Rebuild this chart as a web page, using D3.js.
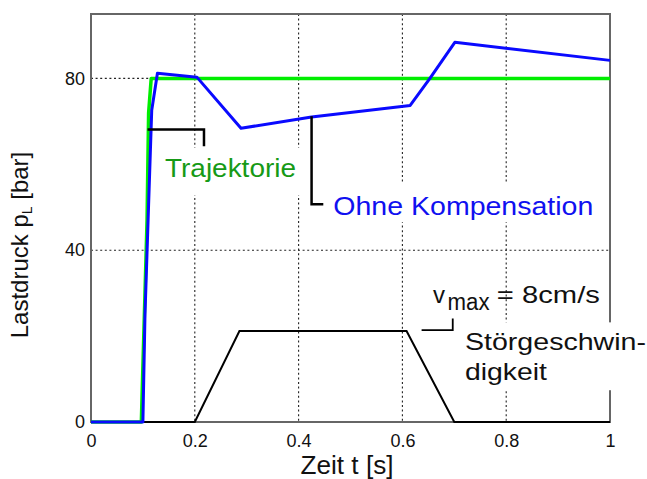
<!DOCTYPE html>
<html>
<head>
<meta charset="utf-8">
<script src="https://cdn.jsdelivr.net/npm/d3@7"></script>
<style>
  html, body { margin: 0; padding: 0; background: #fff; }
  svg { display: block; font-family: "Liberation Sans", Arial, Helvetica, sans-serif; }
</style>
</head>
<body>
<svg id="chart" width="647" height="479"></svg>
<script>
// Zeitachse [s] und Lastdruck [bar]
const trajT = [0, 0.097, 0.108, 0.111, 0.116, 1];
const trajP = [0, 0, 47, 72, 80, 80];

const ohneT = [0, 0.1, 0.104, 0.110, 0.117, 0.128, 0.204, 0.289, 0.425, 0.615, 0.653, 0.701, 1];
const ohneP = [0, 0, 25, 47, 72.6, 81.2, 80.3, 68.4, 71.0, 73.7, 80, 88.4, 84.2];

// Störgeschwindigkeit, in Achseneinheiten aufgetragen (Plateau = v_max)
const stoerT = [0, 0.2, 0.286, 0.608, 0.7, 1];
const stoerP = [0, 0, 21.2, 21.2, 0, 0];

const xTicks = [0, 0.2, 0.4, 0.6, 0.8, 1];
const xTickLabels = ["0", "0.2", "0.4", "0.6", "0.8", "1"];
const yTicks = [0, 40, 80];
const yTickLabels = ["0", "40", "80"];

const svg = d3.select("#chart");
const x = d3.scaleLinear().domain([0, 1]).range([91, 610]);
const y = d3.scaleLinear().domain([0, 95]).range([422, 14]);

const zip = (ts, ps) => ts.map((t, i) => [t, ps[i]]);
const line = d3.line().x(d => x(d[0])).y(d => y(d[1]));

// Gitter (gepunktet)
const grid = svg.append("g").attr("stroke", "#222").attr("stroke-width", 1.1)
  .attr("stroke-dasharray", "2,2.6");
xTicks.filter(t => t > 0 && t < 1).forEach(t => {
  grid.append("line").attr("x1", x(t)).attr("x2", x(t)).attr("y1", y.range()[1]).attr("y2", y.range()[0]);
});
yTicks.filter(v => v > 0).forEach(v => {
  grid.append("line").attr("x1", x(0)).attr("x2", x(1)).attr("y1", y(v)).attr("y2", y(v));
});

// Achsenrahmen
svg.append("rect")
  .attr("x", x(0)).attr("y", y.range()[1])
  .attr("width", x(1) - x(0)).attr("height", y.range()[0] - y.range()[1])
  .attr("fill", "none").attr("stroke", "#666").attr("stroke-width", 2);

// Achsenbeschriftung mit d3-Achsen
const xAxis = d3.axisBottom(x).tickValues(xTicks).tickFormat((d, i) => xTickLabels[i]).tickSize(0).tickPadding(12);
const gx = svg.append("g").attr("transform", `translate(0,${y(0)})`).call(xAxis);
gx.select(".domain").remove();
gx.selectAll("text").attr("font-size", 18).attr("fill", "#111").attr("font-family", "Liberation Sans, Arial, sans-serif");

const yAxis = d3.axisLeft(y).tickValues(yTicks).tickFormat((d, i) => yTickLabels[i]).tickSize(0).tickPadding(6);
const gy = svg.append("g").attr("transform", `translate(${x(0)},0)`).call(yAxis);
gy.select(".domain").remove();
gy.selectAll("text").attr("font-size", 18).attr("fill", "#111").attr("font-family", "Liberation Sans, Arial, sans-serif");

// Weiße Hinterlegungen der Beschriftungen
const bg = svg.append("g").attr("fill", "#fff");
bg.append("rect").attr("x", x(0.133)).attr("y", y(63.8)).attr("width", x(0.405) - x(0.133)).attr("height", y(52.8) - y(63.8));
bg.append("rect").attr("x", x(0.455)).attr("y", y(55.5)).attr("width", x(0.985) - x(0.455)).attr("height", y(46.5) - y(55.5));
bg.append("rect").attr("x", x(0.71)).attr("y", y(23.2)).attr("width", 647 - x(0.71)).attr("height", y(7.4) - y(23.2));

// Kurven
svg.append("path").datum(zip(stoerT, stoerP)).attr("d", line)
  .attr("fill", "none").attr("stroke", "#000").attr("stroke-width", 2);
svg.append("path").datum(zip(trajT, trajP)).attr("d", line)
  .attr("fill", "none").attr("stroke", "#00ee00").attr("stroke-width", 3.5).attr("stroke-linejoin", "round");
svg.append("path").datum(zip(ohneT, ohneP)).attr("d", line)
  .attr("fill", "none").attr("stroke", "#0a0aff").attr("stroke-width", 3).attr("stroke-linejoin", "round");

// Hinweislinien
const ptr = d3.line().x(d => x(d[0])).y(d => y(d[1]));
svg.append("path").datum([[0.109, 68.1], [0.2177, 68.1], [0.2177, 64.2]]).attr("d", ptr)
  .attr("fill", "none").attr("stroke", "#000").attr("stroke-width", 2.5);
svg.append("path").datum([[0.425, 71.2], [0.425, 50.7], [0.4476, 50.7]]).attr("d", ptr)
  .attr("fill", "none").attr("stroke", "#000").attr("stroke-width", 2.5);
svg.append("path").datum([[0.637, 21.4], [0.697, 21.4], [0.697, 24.1]]).attr("d", ptr)
  .attr("fill", "none").attr("stroke", "#000").attr("stroke-width", 1.8);

// Beschriftungen
function label(t, p, txt, size, color, len) {
  const el = svg.append("text").attr("x", x(t)).attr("y", y(p))
    .attr("font-size", size).attr("fill", color).text(txt);
  if (len) el.attr("textLength", len).attr("lengthAdjust", "spacingAndGlyphs");
  return el;
}
label(0.1426, 57.0, "Trajektorie", 26, "#169a16", 131);
label(0.4669, 48.1, "Ohne Kompensation", 26, "#1010f0", 260);
label(0.659, 27.7, "v", 24, "#111");
label(0.687, 26.1, "max", 23, "#111", 42);
label(0.782, 27.7, "= 8cm/s", 24, "#111", 103);
label(0.7206, 16.7, "Störgeschwin-", 24, "#111", 181);
label(0.7206, 9.8, "digkeit", 24, "#111", 82);

// Achsentitel
svg.append("text").attr("x", 347).attr("y", 474).attr("text-anchor", "middle")
  .attr("font-size", 25).attr("fill", "#111")
  .attr("textLength", 93).attr("lengthAdjust", "spacingAndGlyphs").text("Zeit t [s]");

const yl = svg.append("text").attr("transform", "translate(28,245) rotate(-90)")
  .attr("text-anchor", "middle").attr("font-size", 24).attr("fill", "#111");
yl.append("tspan").text("Lastdruck p");
yl.append("tspan").attr("font-size", 14).attr("dy", 4).text("L");
yl.append("tspan").attr("dy", -4).text(" [bar]");
</script>
</body>
</html>
